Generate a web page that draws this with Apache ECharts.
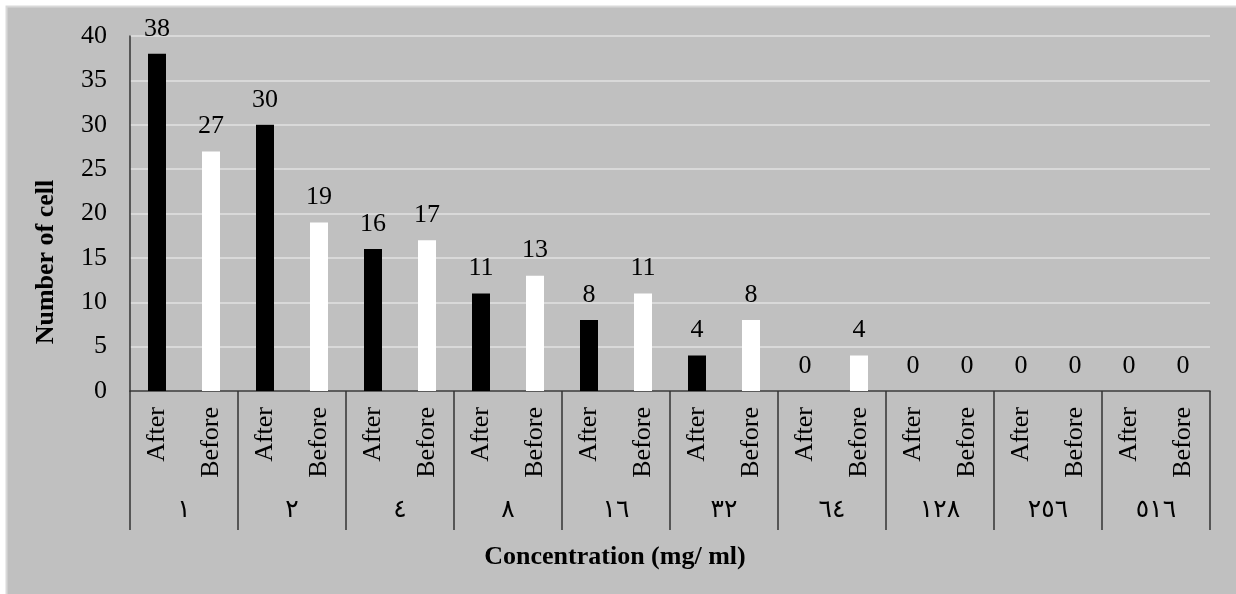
<!DOCTYPE html>
<html>
<head>
<meta charset="utf-8">
<script src="https://cdn.jsdelivr.net/npm/echarts@6/dist/echarts.min.js"></script>
<style>
html,body{margin:0;padding:0;background:#fff;}
#c{width:1236px;height:594px;}
</style>
</head>
<body>
<div id="c"></div>
<script>
const groups = ["١", "٢", "٤", "٨", "١٦", "٣٢", "٦٤", "١٢٨", "٢٥٦", "٥١٦"];
const phases = ["After", "Before"];
const afterVals = [38, 30, 16, 11, 8, 4, 0, 0, 0, 0];
const beforeVals = [27, 19, 17, 13, 11, 8, 4, 0, 0, 0];
const yTicks = { min: 0, max: 40, interval: 5 };
const yTitle = 'Number of cell';
const xTitle = 'Concentration (mg/ ml)';

const cats = [];
const barData = [];
groups.forEach((g, i) => {
  cats.push(phases[0]);
  barData.push({ value: afterVals[i], itemStyle: { color: '#000000' } });
  cats.push(phases[1]);
  barData.push({ value: beforeVals[i], itemStyle: { color: '#ffffff' } });
});

const serif = "'Liberation Serif', 'Times New Roman', 'DejaVu Serif', serif";
const chart = echarts.init(document.getElementById('c'), null, { renderer: 'canvas' });
chart.setOption({
  animation: false,
  backgroundColor: '#ffffff',
  graphic: [{
    type: 'rect', z: -10, silent: true,
    shape: { x: 6.5, y: 6.5, width: 1240, height: 600 },
    style: { fill: '#c0c0c0', stroke: '#d9d9d9', lineWidth: 2 }
  }, {
    type: 'text', silent: true,
    x: 46, y: 262, rotation: Math.PI / 2,
    style: { text: yTitle, fontFamily: serif, fontSize: 26, fontWeight: 'bold', fill: '#000', align: 'center', verticalAlign: 'middle' }
  }, {
    type: 'text', silent: true,
    x: 615, y: 557,
    style: { text: xTitle, fontFamily: serif, fontSize: 26, fontWeight: 'bold', fill: '#000', align: 'center', verticalAlign: 'middle' }
  }],
  grid: { left: 130, right: 26, top: 36, bottom: 203, containLabel: false },
  xAxis: [{
    type: 'category',
    data: cats,
    position: 'bottom',
    axisLine: { show: true, lineStyle: { color: '#333', width: 1.5 } },
    axisTick: { show: false },
    axisLabel: { rotate: 90, margin: 16, interval: 0, fontFamily: serif, fontSize: 26, color: '#000' },
    splitLine: { show: false }
  }, {
    type: 'category',
    data: groups,
    position: 'bottom',
    axisLine: { show: false },
    axisTick: { show: true, length: 139, lineStyle: { color: '#333', width: 1.5 } },
    axisLabel: { margin: 107, interval: 0, fontFamily: serif + ", 'DejaVu Sans'", fontSize: 25, color: '#000' },
    splitLine: { show: false }
  }],
  yAxis: {
    type: 'value',
    min: yTicks.min, max: yTicks.max, interval: yTicks.interval,
    axisLine: { show: true, lineStyle: { color: '#333', width: 1.5 } },
    axisTick: { show: false },
    axisLabel: { margin: 23, fontFamily: serif, fontSize: 26, color: '#000' },
    splitLine: { show: true, lineStyle: { color: '#d9d9d9', width: 2 } }
  },
  series: [{
    type: 'bar',
    xAxisIndex: 0,
    data: barData,
    barWidth: 18,
    label: { show: true, position: 'top', distance: 12, fontFamily: serif, fontSize: 26, color: '#000' }
  }]
});
</script>
</body>
</html>
